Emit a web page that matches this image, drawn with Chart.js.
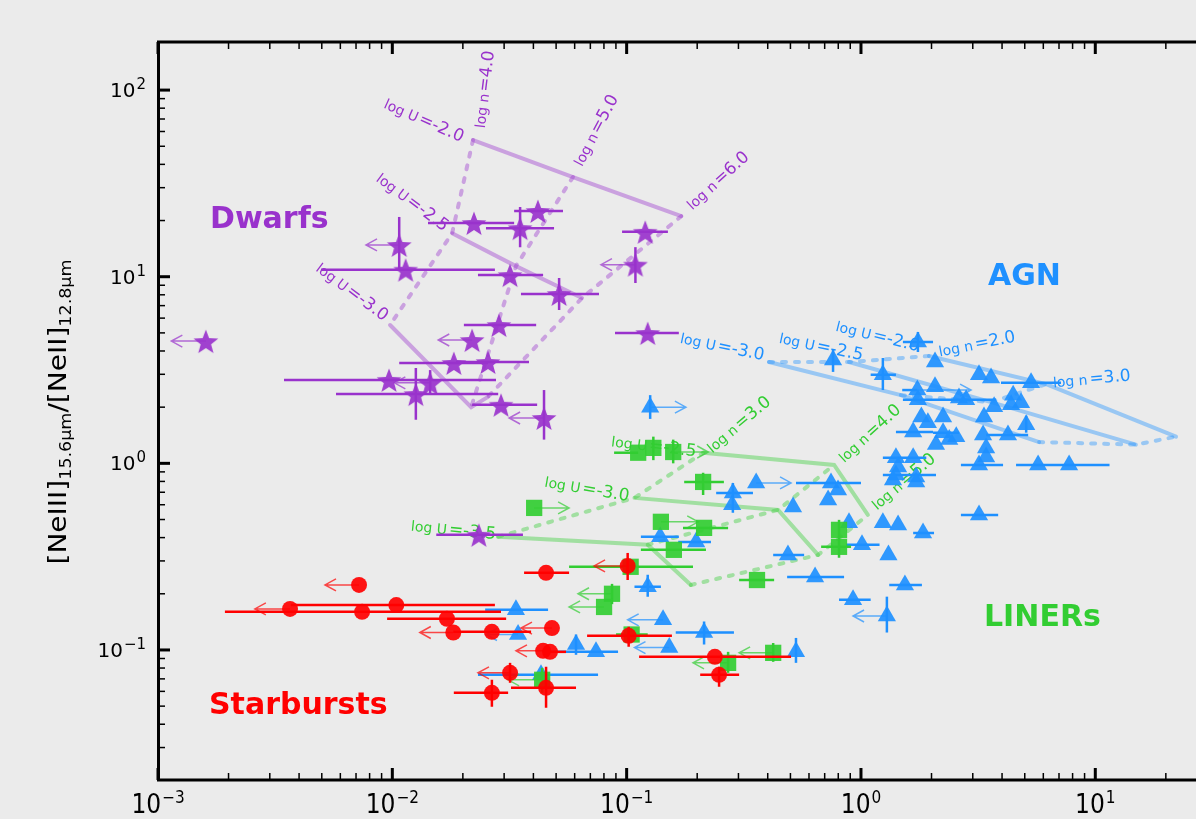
<!DOCTYPE html>
<html>
<head>
<meta charset="utf-8">
<title>[NeIII]/[NeII] diagnostic</title>
<script src="https://cdn.jsdelivr.net/npm/chart.js@4.4.1/dist/chart.umd.min.js"></script>
<style>
  html, body { margin: 0; padding: 0; background: #ebebeb; overflow: hidden; }
  canvas { display: block; }
</style>
</head>
<body>
<canvas id="chart" width="1196" height="819"></canvas>
<script>
// rows: x, y, xLo, xHi, yLo, yHi, limit (x of the arrow tip)
const dwarfs = [
    [0.0223, 19.4, 0.0142, 0.0331],
    [0.0351, 18.2, 0.0251, 0.0490, 14.4, 23.6],
    [0.0418, 22.5, 0.0331, 0.0535],
    [0.0107, 14.8, null, null, 10.9, 20.9, 0.00772],
    [0.0114, 10.9, 0.00496, 0.0274],
    [0.0318, 10.2, 0.0232, 0.0440],
    [0.0515, 8.08, 0.0354, 0.0762, 6.63, 9.84],
    [0.0285, 5.51, 0.0202, 0.0411],
    [0.0219, 4.58, null, null, null, null, 0.0157],
    [0.0183, 3.45, 0.0107, 0.0256],
    [0.0256, 3.49, 0.0187, 0.0383],
    [0.00968, 2.80, 0.00345, 0.0277],
    [0.0145, 2.70, null, null, 2.38, 3.16, 0.0102],
    [0.0126, 2.35, 0.00575, 0.0283, 1.71, 3.24],
    [0.0291, 2.06, 0.0219, 0.0415],
    [0.0444, 1.75, null, null, 1.34, 2.47, 0.0315],
    [0.0016, 4.52, null, null, null, null, 0.00114],
    [0.120, 17.4, 0.0956, 0.150],
    [0.109, 11.6, null, null, 9.25, 14.4, 0.0777],
    [0.123, 4.99, 0.0892, 0.167],
    [0.0234, 0.414, 0.0154, 0.0361]
];

const agn = [
    [0.126, 2.00, null, null, 1.73, 2.32, 0.179],
    [0.760, 3.58, null, null, 3.09, 4.05],
    [0.357, 0.785, null, null, null, null, 0.503],
    [0.284, 0.694, 0.241, 0.346, 0.543, 0.785],
    [0.282, 0.599],
    [0.513, 0.584],
    [0.745, 0.785, 0.528, 1.00],
    [0.798, 0.720],
    [0.724, 0.637],
    [0.139, 0.404, 0.115, 0.167],
    [0.198, 0.379, 0.166, 0.229],
    [0.488, 0.323, 0.422, 0.572],
    [0.637, 0.246, 0.484, 0.847],
    [0.123, 0.218, 0.108, 0.140, 0.193, 0.253],
    [0.0337, 0.164, 0.0249, 0.0462],
    [0.0344, 0.121, null, null, null, null, 0.0251],
    [0.143, 0.145, null, null, null, null, 0.101],
    [0.214, 0.124, 0.162, 0.287, 0.107, 0.142],
    [0.0608, 0.107, null, null, 0.0942, 0.121],
    [0.0740, 0.0977, 0.0476, 0.0919],
    [0.152, 0.103, null, null, null, null, 0.108],
    [0.528, 0.0977, null, null, 0.0853, 0.116],
    [0.0431, 0.0736, 0.0232, 0.0755],
    [1.75, 4.47, 1.51, 2.03, 3.95, 5.06],
    [2.07, 3.49],
    [1.24, 2.98, 1.10, 1.41, 2.47, 3.67],
    [3.19, 2.98],
    [3.59, 2.87],
    [5.32, 2.70, 3.96, 7.14],
    [1.74, 2.47, 1.50, null, null, null, 2.95],
    [2.07, 2.57],
    [1.75, 2.19, 1.51, 3.77],
    [2.62, 2.24],
    [2.81, 2.19],
    [4.46, 2.32],
    [4.82, 2.11],
    [3.70, 2.01],
    [4.37, 2.06],
    [3.35, 1.77],
    [2.24, 1.77],
    [1.81, 1.77],
    [1.93, 1.65],
    [5.07, 1.61, null, null, 1.46, 1.80],
    [1.67, 1.47, 1.41, 2.03],
    [2.24, 1.46, 2.03, 2.62],
    [2.55, 1.39],
    [3.32, 1.42],
    [4.24, 1.42, 3.42, 5.17],
    [2.09, 1.26],
    [2.38, 1.34],
    [3.42, 1.21],
    [3.42, 1.08],
    [3.19, 0.981, 2.67, 4.04],
    [5.70, 0.981, 4.59, 11.5],
    [7.73, 0.981],
    [1.41, 1.07, 1.24, 1.90],
    [1.67, 1.07],
    [1.44, 0.957],
    [1.41, 0.867, 1.24, 2.09],
    [1.72, 0.846],
    [1.72, 0.795],
    [1.37, 0.815],
    [3.19, 0.529, 2.67, 3.85],
    [0.889, 0.480],
    [1.24, 0.480],
    [1.44, 0.468],
    [1.84, 0.424, 1.67, 2.05],
    [1.01, 0.366, 0.864, 1.20],
    [1.31, 0.323],
    [1.54, 0.223, 1.32, 1.82],
    [0.925, 0.186, 0.806, 1.10],
    [1.29, 0.152, null, null, 0.124, 0.193, 0.925]
];

const liners = [
    [0.112, 1.14, 0.0884],
    [0.130, 1.21, null, null, 1.04, 1.39],
    [0.158, 1.15, null, null, 1.00, 1.34, 0.223],
    [0.212, 0.795, 0.176, 0.260, 0.677, 0.889],
    [0.0403, 0.577, null, null, null, null, 0.0568],
    [0.140, 0.486, null, null, null, null, 0.202],
    [0.214, 0.451, 0.174, 0.271],
    [0.159, 0.344, 0.115, 0.218],
    [0.806, 0.440, null, null, 0.389, 0.498],
    [0.806, 0.357, 0.676, 0.907, 0.312, 0.404],
    [0.360, 0.237, 0.302, 0.426],
    [0.0866, 0.200, null, null, 0.176, 0.226, 0.062],
    [0.0801, 0.170, null, null, null, null, 0.0568],
    [0.104, 0.279, 0.0568, 0.192],
    [0.105, 0.121, 0.0901, 0.123],
    [0.271, 0.0853, null, null, 0.0754, 0.0977, 0.192],
    [0.422, 0.0965, null, null, 0.0864, 0.109, 0.302],
    [0.0436, 0.0692, null, null, 0.0589, 0.0802, 0.0312]
];

const starbursts = [
    [0.00721, 0.223, null, null, null, null, 0.00516],
    [0.00366, 0.166, null, null, null, null, 0.00259],
    [0.00743, 0.160, 0.00193, 0.0291],
    [0.0104, 0.174, 0.00369, 0.0274],
    [0.0171, 0.147, 0.0095, 0.0306],
    [0.0182, 0.124, null, null, null, null, 0.0131],
    [0.0266, 0.125, 0.0182, 0.0391],
    [0.0318, 0.0754, null, null, 0.0667, 0.0853, 0.0232],
    [0.0266, 0.0589, 0.0183, 0.0312, 0.0496, 0.0692],
    [0.0453, 0.0627, 0.0321, 0.0608, 0.049, 0.0812],
    [0.0453, 0.259, 0.0365, 0.0568],
    [0.101, 0.282, null, null, 0.237, 0.331, 0.0726],
    [0.048, 0.131, null, null, null, null, 0.0354],
    [0.044, 0.0989, null, null, null, null, 0.0337],
    [0.0471, 0.0977, null, 0.0551],
    [0.102, 0.119, 0.0678, 0.156, 0.104, 0.133],
    [0.238, 0.0919, 0.113, 0.503],
    [0.248, 0.0736, 0.206, 0.302, 0.0635, 0.0812]
];

// photoionisation grids: one list per log U, points ordered by log n
const dwarfGridU20 = [[0.0221, 54.0], [0.0590, 34.2], [0.171, 21.1]];
const dwarfGridU25 = [[0.0180, 17.1], [0.0337, 11.4], [0.0645, 7.69]];
const dwarfGridU30 = [[0.00978, 5.51], [0.0217, 2.00], [0.0256, 2.27]];

const agnGridU30 = [[0.405, 3.49], [1.48, 2.32], [5.76, 1.30]];
const agnGridU25 = [[0.889, 3.49], [3.59, 2.13], [14.9, 1.26]];
const agnGridU20 = [[1.95, 3.76], [6.17, 2.66], [22.1, 1.39]];

const linerGridU35 = [[0.0283, 0.404], [0.123, 0.366], [0.188, 0.223]];
const linerGridU30 = [[0.108, 0.653], [0.443, 0.563], [0.656, 0.323]];
const linerGridU25 = [[0.212, 1.14], [0.768, 0.981], [1.07, 0.529]];

const xDecades = [-3, -2, -1, 0, 1];
const yDecades = [-1, 0, 1, 2];

const purple = '#9932cc', blue = '#1e90ff', green = '#32cd32', red = '#ff0000';

// text, colour, x, y, angle (deg), alignment
const gridLabels = [
    ['log U=-2.0', purple, 0.0200, 55.3, 24, 'right'],
    ['log U=-2.5', purple, 0.0170, 18.2, 37, 'right'],
    ['log U=-3.0', purple, 0.0094, 6.01, 37, 'right'],
    ['log n=4.0', purple, 0.0237, 62.6, -83, 'left'],
    ['log n=5.0', purple, 0.0620, 39.7, -62, 'left'],
    ['log n=6.0', purple, 0.185, 23.6, -42, 'left'],
    ['log U=-3.0', blue, 0.386, 3.76, 12, 'right'],
    ['log U=-2.5', blue, 1.02, 3.76, 12, 'right'],
    ['log U=-2.0', blue, 1.77, 4.20, 14, 'right'],
    ['log n=2.0', blue, 2.15, 3.95, -11, 'left'],
    ['log n=3.0', blue, 6.60, 2.70, -5, 'left'],
    ['log U=-3.5', green, 0.0277, 0.414, 6, 'right'],
    ['log U=-3.0', green, 0.1024, 0.661, 10, 'right'],
    ['log U=-2.5', green, 0.198, 1.15, 7, 'right'],
    ['log n=3.0', green, 0.225, 1.18, -40, 'left'],
    ['log n=4.0', green, 0.822, 1.043, -42, 'left'],
    ['log n=5.0', green, 1.137, 0.584, -40, 'left']
];

const rowsByLabel = { Starbursts: starbursts, LINERs: liners, AGN: agn, Dwarfs: dwarfs };
const colorByLabel = { Starbursts: red, LINERs: green, AGN: blue, Dwarfs: purple };

function starCanvas(color, r) {
    const c = document.createElement('canvas');
    const s = Math.ceil(r * 2 + 2);
    c.width = s;
    c.height = s;
    const g = c.getContext('2d');
    g.fillStyle = color;
    g.beginPath();
    for (let i = 0; i < 10; i++) {
        const rad = i % 2 ? r * 0.42 : r;
        const a = -Math.PI / 2 + i * Math.PI / 5;
        g.lineTo(s / 2 + rad * Math.cos(a), s / 2 + 1.5 + rad * Math.sin(a));
    }
    g.closePath();
    g.fill();
    return c;
}

const toPoints = rows => rows.map(r => ({ x: r[0], y: r[1] }));

function gridLine(points, color, dashed) {
    return {
        data: toPoints(points),
        showLine: true,
        borderColor: color,
        borderWidth: 4,
        borderDash: dashed ? [4, 9] : [],
        borderCapStyle: 'round',
        pointRadius: 0,
        order: 10
    };
}

function gridSet(rowsU, color) {
    const sets = rowsU.map(r => gridLine(r, color, false));
    for (let i = 0; i < rowsU[0].length; i++) {
        sets.push(gridLine(rowsU.map(r => r[i]), color, true));
    }
    return sets;
}

function drawErrors(chart, rows, color) {
    const ctx = chart.ctx, xs = chart.scales.x, ys = chart.scales.y;
    ctx.save();
    rows.forEach(r => {
        const px = xs.getPixelForValue(r[0]), py = ys.getPixelForValue(r[1]);
        ctx.strokeStyle = color;
        ctx.globalAlpha = 1;
        ctx.lineWidth = 2.5;
        ctx.beginPath();
        if (r[2] != null) { ctx.moveTo(xs.getPixelForValue(r[2]), py); ctx.lineTo(px, py); }
        if (r[3] != null) { ctx.moveTo(px, py); ctx.lineTo(xs.getPixelForValue(r[3]), py); }
        if (r[4] != null) { ctx.moveTo(px, ys.getPixelForValue(r[4])); ctx.lineTo(px, ys.getPixelForValue(r[5])); }
        ctx.stroke();
        if (r[6] != null) {
            const tip = xs.getPixelForValue(r[6]);
            const dir = tip < px ? 1 : -1;
            ctx.lineWidth = 1.5;
            ctx.globalAlpha = 0.7;
            ctx.beginPath();
            ctx.moveTo(px, py);
            ctx.lineTo(tip, py);
            ctx.moveTo(tip + dir * 11, py - 6);
            ctx.lineTo(tip, py);
            ctx.lineTo(tip + dir * 11, py + 6);
            ctx.stroke();
        }
    });
    ctx.restore();
}

function drawGridLabel(chart, lab) {
    const [text, color, x, y, angle, align] = lab;
    const ctx = chart.ctx;
    const cut = text.indexOf('=');
    const head = text.slice(0, cut), tail = text.slice(cut);
    ctx.save();
    ctx.translate(chart.scales.x.getPixelForValue(x), chart.scales.y.getPixelForValue(y));
    ctx.rotate(angle * Math.PI / 180);
    ctx.fillStyle = color;
    ctx.textBaseline = 'middle';
    ctx.textAlign = 'left';
    ctx.font = '14px "DejaVu Sans"';
    const w1 = ctx.measureText(head).width + 2;
    ctx.font = '17px "DejaVu Sans"';
    const w2 = ctx.measureText(tail).width;
    const x0 = align === 'right' ? -(w1 + w2) : 0;
    ctx.font = '14px "DejaVu Sans"';
    ctx.fillText(head, x0, 1);
    ctx.font = '17px "DejaVu Sans"';
    ctx.fillText(tail, x0 + w1, 0);
    ctx.restore();
}

// "10" with a raised exponent
function drawPower(ctx, k, x, y, o) {
    const exp = k < 0 ? o.minus + Math.abs(k) : String(k);
    ctx.font = o.base;
    const wb = ctx.measureText('10').width;
    ctx.font = o.sup;
    const we = ctx.measureText(exp).width;
    const total = (wb + we + 1) * o.sx;
    const x0 = o.align === 'center' ? x - total / 2 : x - total;
    ctx.save();
    ctx.translate(x0, y);
    ctx.scale(o.sx, 1);
    ctx.textAlign = 'left';
    ctx.textBaseline = 'alphabetic';
    ctx.font = o.base;
    ctx.fillText('10', 0, 0);
    ctx.font = o.sup;
    ctx.fillText(exp, wb + 1, -o.rise);
    ctx.restore();
}

function drawAxes(chart) {
    const ctx = chart.ctx, xs = chart.scales.x, ys = chart.scales.y, a = chart.chartArea;
    ctx.save();
    ctx.strokeStyle = '#000';
    ctx.fillStyle = '#000';

    for (let k = -3; k <= 1; k++) {
        for (let m = 1; m <= 9; m++) {
            const v = m * Math.pow(10, k);
            if (v > xs.max) continue;
            const p = xs.getPixelForValue(v), len = m === 1 ? 12 : 7;
            ctx.lineWidth = m === 1 ? 3 : 1.5;
            ctx.beginPath();
            ctx.moveTo(p, a.bottom); ctx.lineTo(p, a.bottom - len);
            ctx.moveTo(p, a.top); ctx.lineTo(p, a.top + len);
            ctx.stroke();
        }
    }
    for (let k = -2; k <= 2; k++) {
        for (let m = 1; m <= 9; m++) {
            const v = m * Math.pow(10, k);
            if (v < ys.min || v > ys.max) continue;
            const p = ys.getPixelForValue(v), len = m === 1 ? 12 : 7;
            ctx.lineWidth = m === 1 ? 3 : 1.5;
            ctx.beginPath();
            ctx.moveTo(a.left, p); ctx.lineTo(a.left + len, p);
            ctx.stroke();
        }
    }

    // spines
    ctx.lineWidth = 3;
    ctx.beginPath();
    ctx.moveTo(a.left + 0.5, a.top - 1.5);
    ctx.lineTo(a.left + 0.5, a.bottom + 1.5);
    ctx.moveTo(a.left - 1, a.top);
    ctx.lineTo(a.right, a.top);
    ctx.moveTo(a.left - 1, a.bottom);
    ctx.lineTo(a.right, a.bottom);
    ctx.stroke();

    xDecades.forEach(k => {
        drawPower(ctx, k, xs.getPixelForValue(Math.pow(10, k)), 813, {
            base: '26px "DejaVu Sans"', sup: '17px "DejaVu Sans"', sx: 0.9, rise: 10, align: 'center', minus: '\u2212'
        });
    });
    yDecades.forEach(k => {
        drawPower(ctx, k, 146, ys.getPixelForValue(Math.pow(10, k)) + 7, {
            base: '20px "DejaVu Sans"', sup: '15px "DejaVu Sans"', sx: 1, rise: 8, align: 'right', minus: '\u2212'
        });
    });

    // y title with subscripts
    const parts = [
        ['[NeIII]', '24px "DejaVu Sans"', 0],
        ['15.6\u03bcm', '15px "DejaVu Sans"', 5],
        ['/', '24px "DejaVu Sans"', 0],
        ['[NeII]', '24px "DejaVu Sans"', 0],
        ['12.8\u03bcm', '15px "DejaVu Sans"', 5]
    ];
    let total = 0;
    parts.forEach(p => { ctx.font = p[1]; p.push(ctx.measureText(p[0]).width); total += p[3]; });
    const stretch = 305 / total;
    ctx.save();
    ctx.translate(58, 412);
    ctx.rotate(-Math.PI / 2);
    ctx.scale(stretch, 1);
    ctx.textAlign = 'left';
    ctx.textBaseline = 'alphabetic';
    let cx = -total / 2;
    parts.forEach(p => {
        ctx.font = p[1];
        ctx.fillText(p[0], cx, 8 + p[2]);
        cx += p[3];
    });
    ctx.restore();
    ctx.restore();
}

function drawRegionNames(chart) {
    const ctx = chart.ctx;
    ctx.save();
    ctx.font = 'bold 30px "DejaVu Sans"';
    ctx.textAlign = 'left';
    ctx.textBaseline = 'alphabetic';
    [['Dwarfs', purple, 210, 228], ['AGN', blue, 988, 285], ['LINERs', green, 984, 626], ['Starbursts', red, 209, 714]]
        .forEach(t => { ctx.fillStyle = t[1]; ctx.fillText(t[0], t[2], t[3]); });
    ctx.restore();
}

const decorations = {
    id: 'decorations',
    beforeDatasetsDraw(chart) {
        gridLabels.forEach(l => drawGridLabel(chart, l));
    },
    beforeDatasetDraw(chart, args) {
        const ds = chart.data.datasets[args.index];
        const rows = rowsByLabel[ds.label];
        if (rows) drawErrors(chart, rows, colorByLabel[ds.label]);
    },
    afterDraw(chart) {
        drawAxes(chart);
        drawRegionNames(chart);
    }
};

const datasets = [
    { label: 'Starbursts', data: toPoints(starbursts), pointStyle: 'circle', pointRadius: 8,
      backgroundColor: 'rgba(255,0,0,0.92)', borderWidth: 0, order: 1 },
    { label: 'LINERs', data: toPoints(liners), pointStyle: 'rect', pointRadius: 11.5,
      backgroundColor: 'rgba(50,205,50,0.92)', borderWidth: 0, order: 2 },
    { label: 'AGN', data: toPoints(agn), pointStyle: 'triangle', pointRadius: 10.5,
      backgroundColor: 'rgba(30,144,255,0.92)', borderWidth: 0, order: 3 },
    { label: 'Dwarfs', data: toPoints(dwarfs), pointStyle: starCanvas('rgba(153,50,204,0.92)', 13),
      backgroundColor: purple, borderWidth: 0, order: 4 },
    ...gridSet([dwarfGridU20, dwarfGridU25, dwarfGridU30], 'rgba(153,50,204,0.4)'),
    ...gridSet([agnGridU30, agnGridU25, agnGridU20], 'rgba(30,144,255,0.4)'),
    ...gridSet([linerGridU35, linerGridU30, linerGridU25], 'rgba(50,205,50,0.4)')
];

new Chart(document.getElementById('chart'), {
    type: 'scatter',
    data: { datasets: datasets },
    options: {
        responsive: false,
        animation: false,
        devicePixelRatio: 1,
        layout: { autoPadding: false, padding: { left: 158, top: 42, right: 0, bottom: 39 } },
        plugins: { legend: { display: false }, tooltip: { enabled: false } },
        scales: {
            x: { type: 'logarithmic', display: false, min: 0.001, max: 26.9 },
            y: { type: 'logarithmic', display: false, min: 0.0201, max: 181 }
        }
    },
    plugins: [decorations]
});
</script>
</body>
</html>
